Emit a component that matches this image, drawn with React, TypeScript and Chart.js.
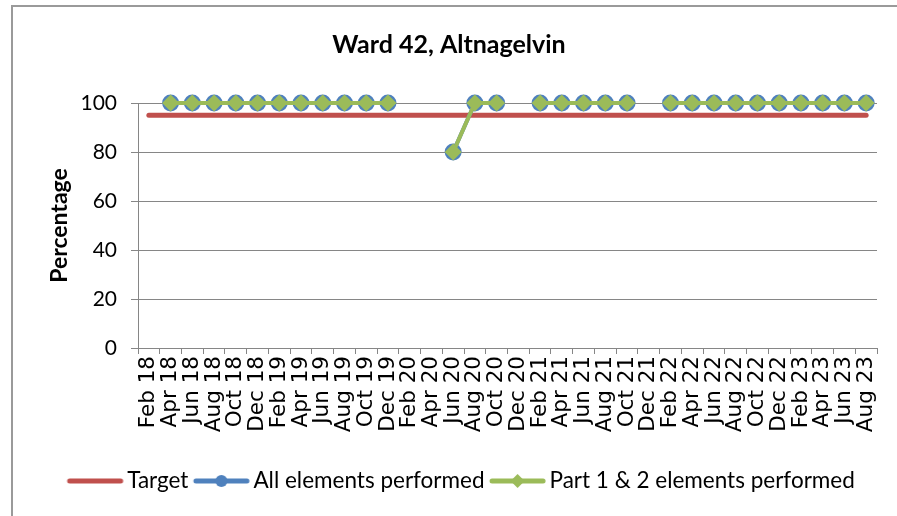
import React, { useEffect, useRef } from 'react';
import { Chart, registerables } from 'chart.js';

Chart.register(...registerables);

const categories = [
  'Feb 18', 'Apr 18', 'Jun 18', 'Aug 18', 'Oct 18', 'Dec 18',
  'Feb 19', 'Apr 19', 'Jun 19', 'Aug 19', 'Oct 19', 'Dec 19',
  'Feb 20', 'Apr 20', 'Jun 20', 'Aug 20', 'Oct 20', 'Dec 20',
  'Feb 21', 'Apr 21', 'Jun 21', 'Aug 21', 'Oct 21', 'Dec 21',
  'Feb 22', 'Apr 22', 'Jun 22', 'Aug 22', 'Oct 22', 'Dec 22',
  'Feb 23', 'Apr 23', 'Jun 23', 'Aug 23',
];

const targetValues = [
  95, 95, 95, 95, 95, 95,
  95, 95, 95, 95, 95, 95,
  95, 95, 95, 95, 95, 95,
  95, 95, 95, 95, 95, 95,
  95, 95, 95, 95, 95, 95,
  95, 95, 95, 95,
];

const allElementsPerformed = [
  null, 100, 100, 100, 100, 100,
  100, 100, 100, 100, 100, 100,
  null, null, 80, 100, 100, null,
  100, 100, 100, 100, 100, null,
  100, 100, 100, 100, 100, 100,
  100, 100, 100, 100,
];

const part12ElementsPerformed = [
  null, 100, 100, 100, 100, 100,
  100, 100, 100, 100, 100, 100,
  null, null, 80, 100, 100, null,
  100, 100, 100, 100, 100, null,
  100, 100, 100, 100, 100, 100,
  100, 100, 100, 100,
];

const yTickValues = [0, 20, 40, 60, 80, 100];

const chartTitle = 'Ward 42, Altnagelvin';
const yAxisTitle = 'Percentage';
const seriesNames = ['Target', 'All elements performed', 'Part 1 & 2 elements performed'];

const RED = '#c0504d';
const BLUE = '#4f81bd';
const GREEN = '#9bbb59';
const GRID = '#868686';

function legendSymbol(color: string, marker: 'none' | 'circle' | 'diamond') {
  const c = document.createElement('canvas');
  c.width = 60;
  c.height = 18;
  const ctx = c.getContext('2d')!;
  ctx.strokeStyle = color;
  ctx.lineWidth = 5;
  ctx.lineCap = 'round';
  ctx.beginPath();
  ctx.moveTo(5.1, 9);
  ctx.lineTo(56.1, 9);
  ctx.stroke();
  ctx.fillStyle = color;
  const cx = 30.6;
  if (marker === 'circle') {
    ctx.beginPath();
    ctx.arc(cx, 9, 6, 0, Math.PI * 2);
    ctx.fill();
  } else if (marker === 'diamond') {
    ctx.beginPath();
    ctx.moveTo(cx, 2);
    ctx.lineTo(cx + 7, 9);
    ctx.lineTo(cx, 16);
    ctx.lineTo(cx - 7, 9);
    ctx.closePath();
    ctx.fill();
  }
  return c;
}

export default function App() {
  const ref = useRef<HTMLCanvasElement | null>(null);

  useEffect(() => {
    if (!ref.current) return;
    const symbols = [
      legendSymbol(RED, 'none'),
      legendSymbol(BLUE, 'circle'),
      legendSymbol(GREEN, 'diamond'),
    ];
    const blockShift = {
      id: 'blockShift',
      afterLayout(chart: any) {
        if (chart.legend) {
          chart.legend.left += 25.5;
          chart.legend.right += 25.5;
        }
        if (chart.titleBlock) {
          chart.titleBlock.left += 10.5;
          chart.titleBlock.right += 10.5;
        }
      },
    };
    const chart = new Chart(ref.current, {
      type: 'line',
      data: {
        labels: categories,
        datasets: [
          {
            label: seriesNames[0],
            data: targetValues,
            borderColor: RED,
            backgroundColor: RED,
            borderWidth: 5,
            borderCapStyle: 'round',
            pointRadius: 0,
            order: 2,
          } as any,
          {
            label: seriesNames[1],
            data: allElementsPerformed,
            borderColor: BLUE,
            backgroundColor: BLUE,
            borderWidth: 4,
            pointStyle: 'circle',
            pointRadius: 8.5,
            pointBorderWidth: 0,
            pointBackgroundColor: BLUE,
            order: 1,
          },
          {
            label: seriesNames[2],
            data: part12ElementsPerformed,
            borderColor: GREEN,
            backgroundColor: GREEN,
            borderWidth: 4,
            pointStyle: 'rectRot',
            pointRadius: 8.5,
            pointBorderWidth: 0,
            pointBackgroundColor: GREEN,
            order: 0,
          },
        ],
      },
      options: {
        animation: false,
        responsive: false,
        events: [],
        layout: { padding: { left: 0, right: 20, top: 0, bottom: 13.75 } },
        datasets: { line: { clip: false as any, spanGaps: false, tension: 0 } },
        scales: {
          x: {
            type: 'category',
            offset: true,
            grid: {
              offset: true,
              drawOnChartArea: false,
              drawTicks: true,
              tickLength: 6,
              color: GRID,
              lineWidth: 1,
            },
            border: { color: GRID, width: 1 },
            ticks: {
              autoSkip: false,
              maxRotation: 90,
              minRotation: 90,
              padding: 2,
              color: '#000',
              font: { family: 'DejaVu Sans', size: 21.5 },
            },
            afterFit: (s: any) => {
              s.height = 110.75;
            },
          },
          y: {
            min: 0,
            max: 100,
            afterBuildTicks: (s: any) => {
              s.ticks = yTickValues.map((v) => ({ value: v }));
            },
            ticks: {
              padding: 14,
              color: '#000',
              font: { family: 'Lato', size: 21 },
            },
            grid: { color: GRID, tickLength: 7, lineWidth: 1 },
            border: { color: GRID, width: 1 },
            title: {
              display: true,
              text: yAxisTitle,
              color: '#000',
              font: { family: 'Lato', size: 23, weight: 'bold', lineHeight: 1.2 },
              padding: { top: 46, bottom: 0 },
            },
            afterFit: (s: any) => {
              s.width = 138;
            },
          },
        },
        plugins: {
          title: {
            display: true,
            text: chartTitle,
            color: '#000',
            font: { family: 'Lato', size: 25, weight: 'bold', lineHeight: 1.2 },
            padding: { top: 30, bottom: 43 },
          },
          legend: {
            position: 'bottom',
            labels: {
              usePointStyle: true,
              pointStyleWidth: 42.75,
              padding: 11,
              color: '#000',
              font: { family: 'Lato', size: 22.5 },
              generateLabels: () =>
                seriesNames.map((name, i) => ({
                  text: name,
                  pointStyle: symbols[i] as any,
                  fillStyle: 'transparent',
                  strokeStyle: 'transparent',
                  lineWidth: 0,
                  datasetIndex: i,
                  hidden: false,
                  fontColor: '#000',
                })),
            },
          },
          tooltip: { enabled: false },
        },
      },
      plugins: [blockShift],
    });
    return () => chart.destroy();
  }, []);

  return (
    <div style={{ position: 'fixed', left: 0, top: 0, width: 897, height: 516, background: '#fff', overflow: 'hidden' }}>
      <div
        style={{
          position: 'absolute',
          left: 11,
          top: 5,
          width: 900,
          height: 520,
          borderLeft: '2px solid #9a9a9a',
          borderTop: '2px solid #9a9a9a',
          boxSizing: 'border-box',
        }}
      />
      <canvas ref={ref} width={897} height={516} style={{ position: 'absolute', left: 0, top: 0, display: 'block' }} />
    </div>
  );
}
